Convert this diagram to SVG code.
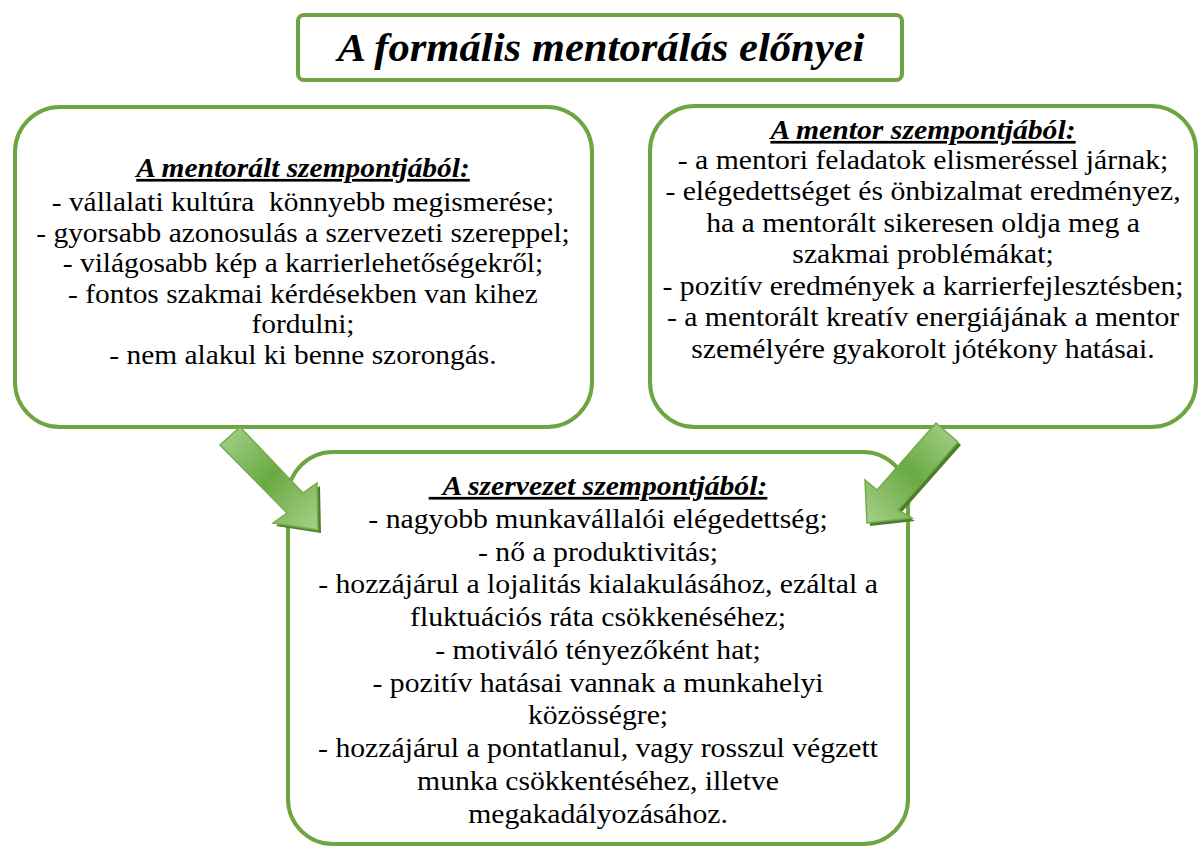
<svg xmlns="http://www.w3.org/2000/svg" width="1198" height="847" viewBox="0 0 1198 847">
<style>
.box{fill:#ffffff;stroke:#6ea543;stroke-width:4}
.t{font-family:"Liberation Serif","Times New Roman",serif;font-size:27px;fill:#000;text-anchor:middle;white-space:pre}
.h{font-family:"Liberation Serif","Times New Roman",serif;font-size:27px;font-weight:bold;font-style:italic;text-decoration:underline;fill:#000;text-anchor:middle;white-space:pre}
.title{font-family:"Liberation Serif","Times New Roman",serif;font-size:41px;font-weight:bold;font-style:italic;fill:#000;text-anchor:middle}
.arrow{stroke:#72ad4a;stroke-width:1.5;stroke-linejoin:miter}
.shadow{fill:#4b7e2c}
</style>
<defs>
<linearGradient id="gL" x1="0" y1="0" x2="1" y2="1">
<stop offset="0" stop-color="#a9d28d"/>
<stop offset="0.5" stop-color="#6aaa43"/>
<stop offset="1" stop-color="#a6d089"/>
</linearGradient>
<linearGradient id="gR" x1="1" y1="0" x2="0" y2="1">
<stop offset="0" stop-color="#a9d28d"/>
<stop offset="0.5" stop-color="#6aaa43"/>
<stop offset="1" stop-color="#a6d089"/>
</linearGradient>
</defs>
<rect width="1198" height="847" fill="#ffffff"/>
<g id="title">
<rect class="box" x="298" y="15" width="604" height="65" rx="6"/>
<g transform="translate(601 0) scale(1.04 1)">
<text class="title" x="0" y="61">A formális mentorálás előnyei</text>
</g>
</g>
<g id="mentoralt">
<rect class="box" x="15" y="107" width="577" height="320" rx="45"/>
<g transform="translate(303 0) scale(1.09 1)">
<text class="h" x="0" y="177">A mentorált szempontjából:</text>
<text class="t" x="0" y="211.5">- vállalati kultúra  könnyebb megismerése;</text>
<text class="t" x="0" y="242">- gyorsabb azonosulás a szervezeti szereppel;</text>
<text class="t" x="0" y="272.5">- világosabb kép a karrierlehetőségekről;</text>
<text class="t" x="0" y="303">- fontos szakmai kérdésekben van kihez</text>
<text class="t" x="0" y="333.5">fordulni;</text>
<text class="t" x="0" y="364">- nem alakul ki benne szorongás.</text>
</g>
</g>
<g id="mentor">
<rect class="box" x="650" y="106" width="546" height="321" rx="45"/>
<g transform="translate(923 0) scale(1.1 1)">
<text class="h" x="0" y="139">A mentor szempontjából:</text>
<text class="t" x="0" y="169">- a mentori feladatok elismeréssel járnak;</text>
<text class="t" x="0" y="200.5">- elégedettséget és önbizalmat eredményez,</text>
<text class="t" x="0" y="232">ha a mentorált sikeresen oldja meg a</text>
<text class="t" x="0" y="263.5">szakmai problémákat;</text>
<text class="t" x="0" y="295">- pozitív eredmények a karrierfejlesztésben;</text>
<text class="t" x="0" y="326.5">- a mentorált kreatív energiájának a mentor</text>
<text class="t" x="0" y="358">személyére gyakorolt jótékony hatásai.</text>
</g>
</g>
<g id="szervezet">
<rect class="box" x="288" y="452" width="620" height="392" rx="45"/>
<g transform="translate(598 0) scale(1.1 1)">
<text class="h" x="0" y="495">  A szervezet szempontjából:</text>
<text class="t" x="0" y="528">- nagyobb munkavállalói elégedettség;</text>
<text class="t" x="0" y="560.75">- nő a produktivitás;</text>
<text class="t" x="0" y="593.5">- hozzájárul a lojalitás kialakulásához, ezáltal a</text>
<text class="t" x="0" y="626.25">fluktuációs ráta csökkenéséhez;</text>
<text class="t" x="0" y="659">- motiváló tényezőként hat;</text>
<text class="t" x="0" y="691.75">- pozitív hatásai vannak a munkahelyi</text>
<text class="t" x="0" y="724.5">közösségre;</text>
<text class="t" x="0" y="757.25">- hozzájárul a pontatlanul, vagy rosszul végzett</text>
<text class="t" x="0" y="790">munka csökkentéséhez, illetve</text>
<text class="t" x="0" y="822.75">megakadályozásához.</text>
</g>
</g>
<g id="connectors">
<g id="arrow-left">
<polygon class="shadow" points="243,430 306,496 320,486 321,533 276,526 290,516 223,448"/>
<polygon class="arrow" fill="url(#gL)" points="240,427 303,493 317,483 318,530 273,523 287,513 220,445"/>
</g>
<g id="arrow-right">
<polygon class="shadow" points="939,426 880,493 868,483 870,526 915,521 901,513 961,445"/>
<polygon class="arrow" fill="url(#gR)" points="936,423 877,490 865,480 867,523 912,518 898,510 958,442"/>
</g>
</g>
</svg>
